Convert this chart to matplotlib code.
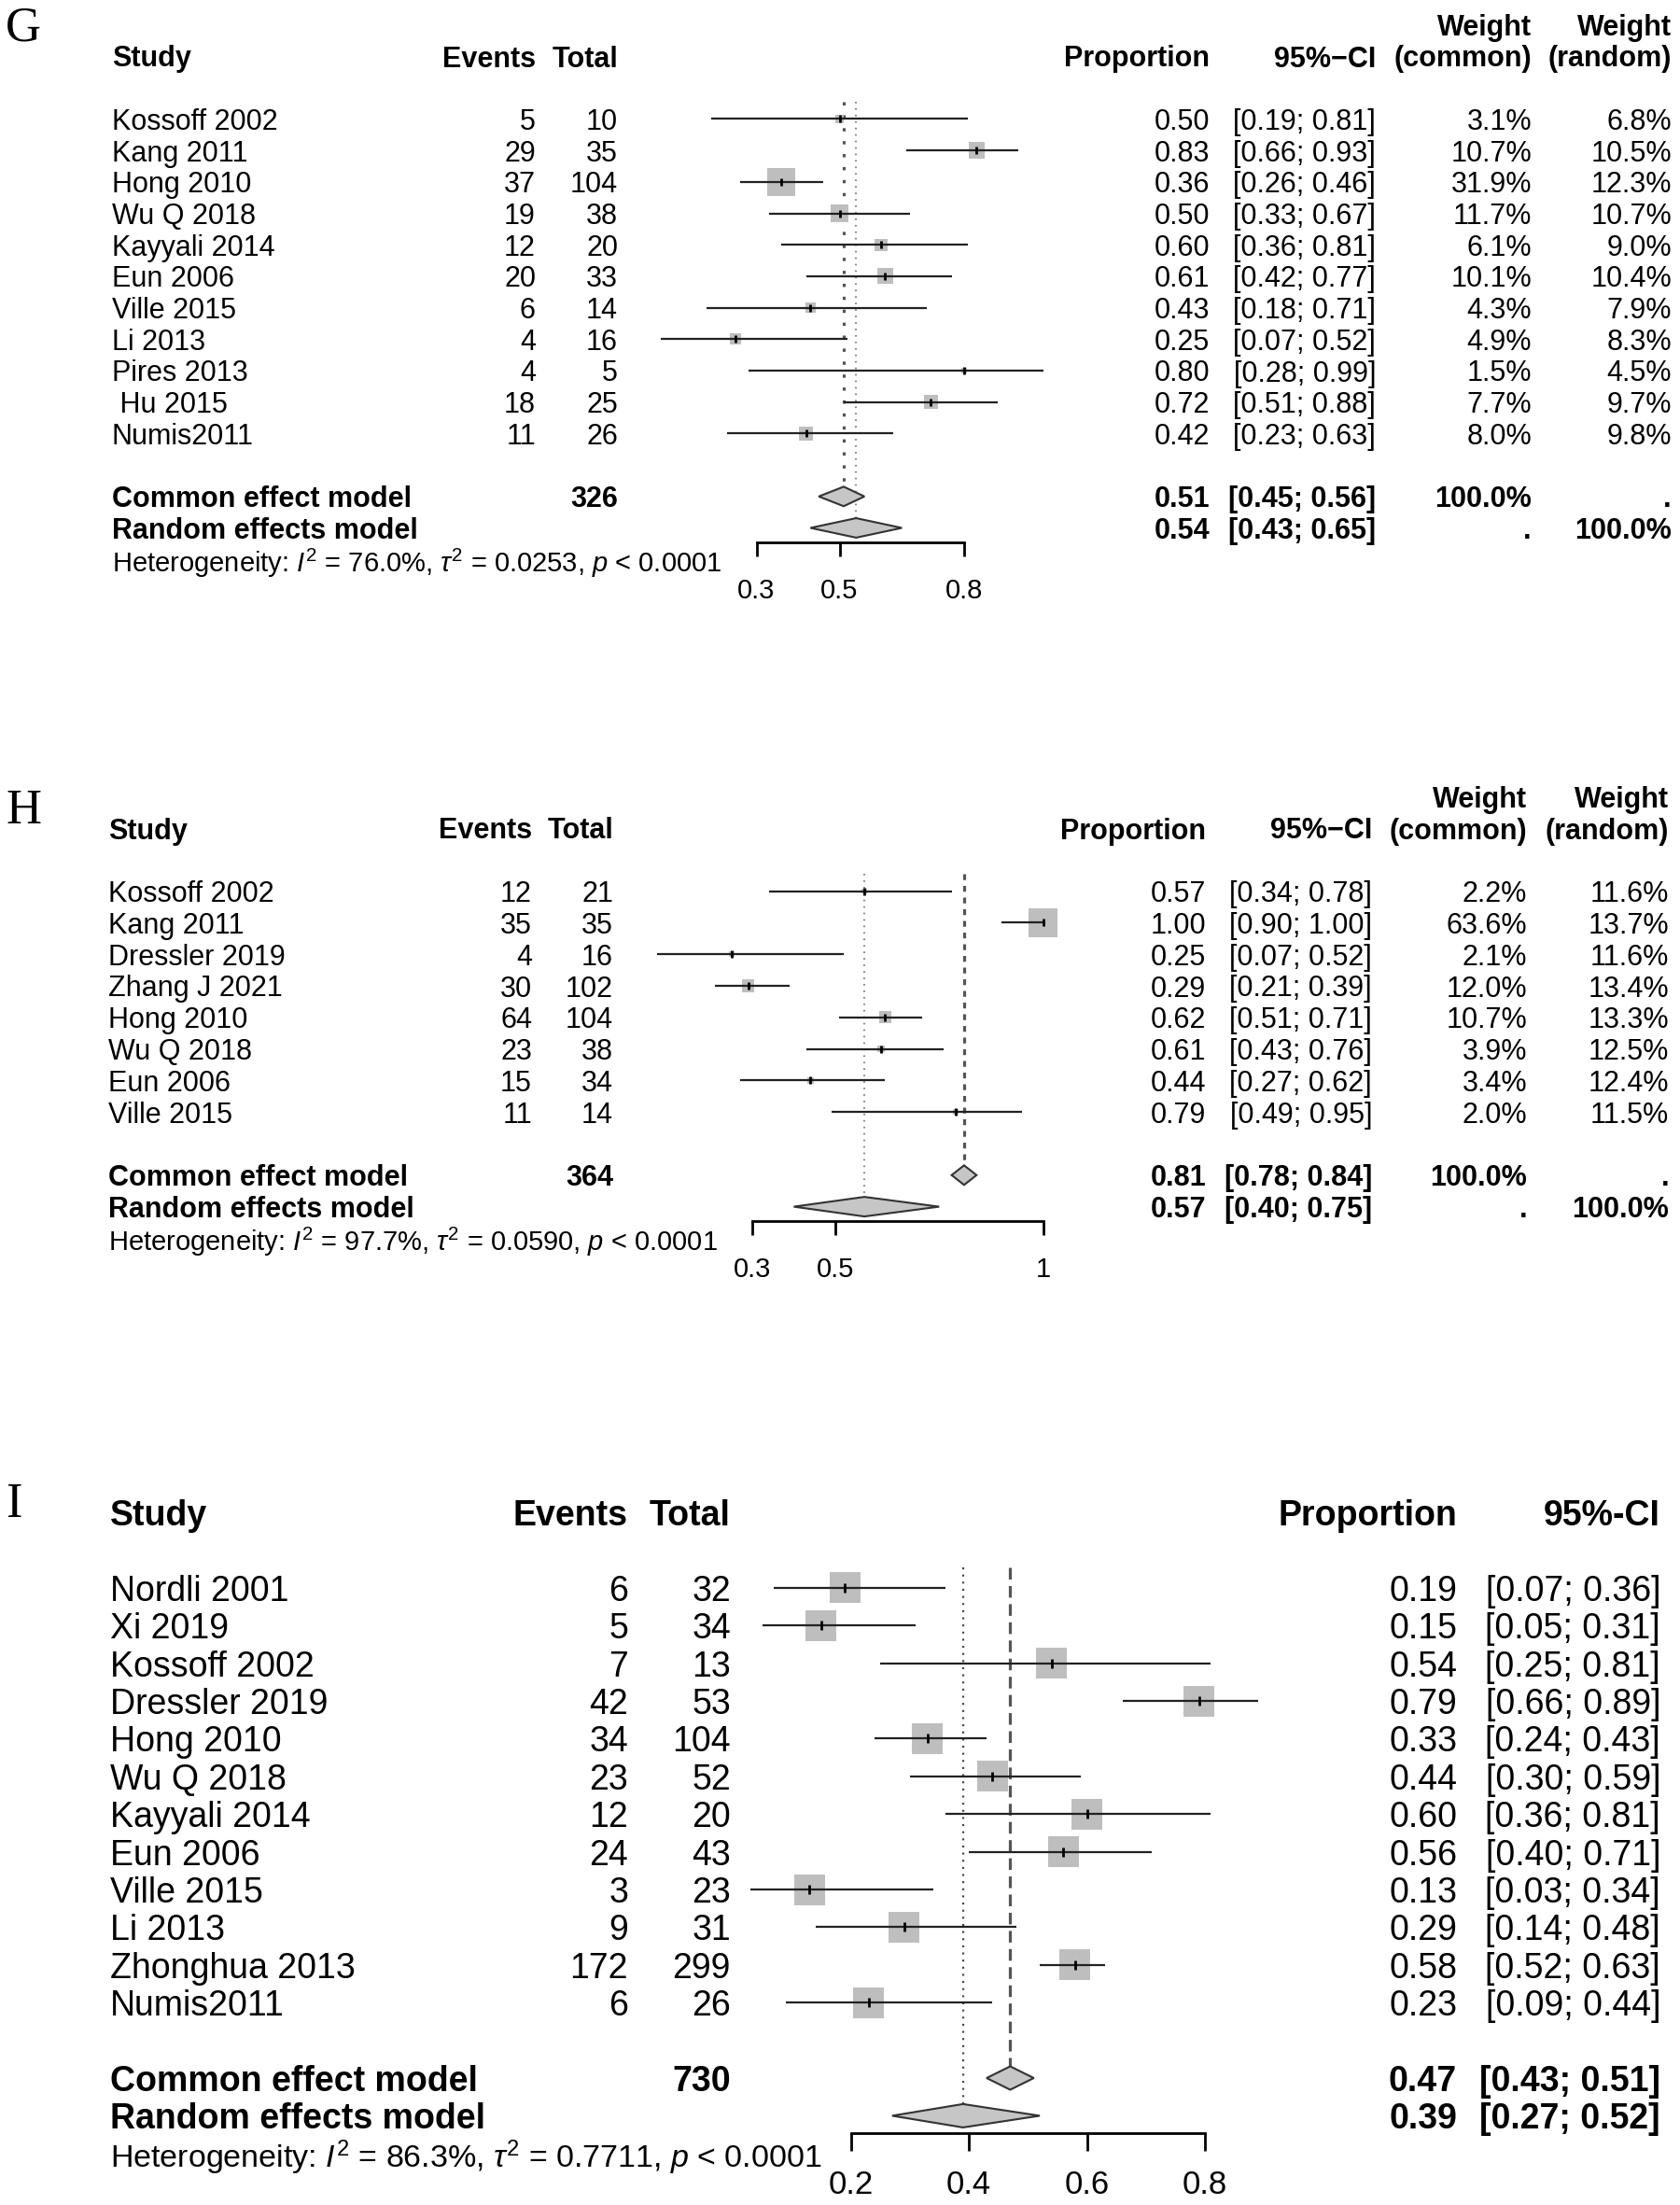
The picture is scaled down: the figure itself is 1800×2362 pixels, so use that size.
import matplotlib
matplotlib.use("Agg")
import matplotlib.pyplot as plt
from matplotlib.patches import Polygon

plt.rcParams["font.family"] = ["Liberation Sans", "DejaVu Sans"]
plt.rcParams["mathtext.fontset"] = "custom"
plt.rcParams["mathtext.rm"] = "Liberation Sans"
plt.rcParams["mathtext.it"] = "Liberation Sans:italic"
plt.rcParams["mathtext.bf"] = "Liberation Sans:bold"
plt.rcParams["lines.scale_dashes"] = False

# ── Panel G data ─────────────────────────────────────────────────────────────
G_STUDY = ["Kossoff 2002", "Kang 2011", "Hong 2010", "Wu Q 2018", "Kayyali 2014",
           "Eun 2006", "Ville 2015", "Li 2013", "Pires 2013", " Hu 2015", "Numis2011"]
G_EVENTS = [5, 29, 37, 19, 12, 20, 6, 4, 4, 18, 11]
G_TOTAL = [10, 35, 104, 38, 20, 33, 14, 16, 5, 25, 26]
G_PROP = [0.50, 0.83, 0.36, 0.50, 0.60, 0.61, 0.43, 0.25, 0.80, 0.72, 0.42]
G_LO = [0.19, 0.66, 0.26, 0.33, 0.36, 0.42, 0.18, 0.07, 0.28, 0.51, 0.23]
G_HI = [0.81, 0.93, 0.46, 0.67, 0.81, 0.77, 0.71, 0.52, 0.99, 0.88, 0.63]
G_W_COMMON = [3.1, 10.7, 31.9, 11.7, 6.1, 10.1, 4.3, 4.9, 1.5, 7.7, 8.0]
G_W_RANDOM = [6.8, 10.5, 12.3, 10.7, 9.0, 10.4, 7.9, 8.3, 4.5, 9.7, 9.8]
G_COMMON = [0.51, 0.45, 0.56]
G_RANDOM = [0.54, 0.43, 0.65]
G_N = 326
G_HET = ["76.0", "0.0253"]
G_TICKS = [0.3, 0.5, 0.8]

# ── Panel H data ─────────────────────────────────────────────────────────────
H_STUDY = ["Kossoff 2002", "Kang 2011", "Dressler 2019", "Zhang J 2021",
           "Hong 2010", "Wu Q 2018", "Eun 2006", "Ville 2015"]
H_EVENTS = [12, 35, 4, 30, 64, 23, 15, 11]
H_TOTAL = [21, 35, 16, 102, 104, 38, 34, 14]
H_PROP = [0.57, 1.00, 0.25, 0.29, 0.62, 0.61, 0.44, 0.79]
H_LO = [0.34, 0.90, 0.07, 0.21, 0.51, 0.43, 0.27, 0.49]
H_HI = [0.78, 1.00, 0.52, 0.39, 0.71, 0.76, 0.62, 0.95]
H_W_COMMON = [2.2, 63.6, 2.1, 12.0, 10.7, 3.9, 3.4, 2.0]
H_W_RANDOM = [11.6, 13.7, 11.6, 13.4, 13.3, 12.5, 12.4, 11.5]
H_COMMON = [0.81, 0.78, 0.84]
H_RANDOM = [0.57, 0.40, 0.75]
H_N = 364
H_HET = ["97.7", "0.0590"]
H_TICKS = [0.3, 0.5, 1.0]

# ── Panel I data ─────────────────────────────────────────────────────────────
I_STUDY = ["Nordli 2001", "Xi 2019", "Kossoff 2002", "Dressler 2019", "Hong 2010",
           "Wu Q 2018", "Kayyali 2014", "Eun 2006", "Ville 2015", "Li 2013",
           "Zhonghua 2013", "Numis2011"]
I_EVENTS = [6, 5, 7, 42, 34, 23, 12, 24, 3, 9, 172, 6]
I_TOTAL = [32, 34, 13, 53, 104, 52, 20, 43, 23, 31, 299, 26]
I_PROP = [0.19, 0.15, 0.54, 0.79, 0.33, 0.44, 0.60, 0.56, 0.13, 0.29, 0.58, 0.23]
I_LO = [0.07, 0.05, 0.25, 0.66, 0.24, 0.30, 0.36, 0.40, 0.03, 0.14, 0.52, 0.09]
I_HI = [0.36, 0.31, 0.81, 0.89, 0.43, 0.59, 0.81, 0.71, 0.34, 0.48, 0.63, 0.44]
I_COMMON = [0.47, 0.43, 0.51]
I_RANDOM = [0.39, 0.27, 0.52]
I_N = 730
I_HET = ["86.3", "0.7711"]
I_TICKS = [0.2, 0.4, 0.6, 0.8]

W_PX, H_PX = 1800, 2362

# layout of each panel in output pixels
LAY_G = dict(label="G", label_base=44, top=0, bottom=700, head=60, row_h=33.7,
             p_ref=0.5, px_ref=899.5, scale=445.0, fs=22, het_fs=21, tick_fs=21,
             x_study=120, x_events=574, x_total=662, x_prop=1296, x_ci=1474,
             x_wc=1641, x_wr=1791, sq_max=30, tick_len=10.5, tick_pad=17,
             dash=(2.5, 7.5), dot=(1.2, 3.8), dot_color="#8a8a8a",
             ci_head="95%\u2212CI")
LAY_H = dict(label="H", label_base=882, top=700, bottom=1420, head=887, row_h=33.8,
             p_ref=0.5, px_ref=895.0, scale=445.0, fs=22, het_fs=21, tick_fs=21,
             x_study=116, x_events=570, x_total=657, x_prop=1292, x_ci=1470,
             x_wc=1636, x_wr=1788, sq_max=31, tick_len=10.5, tick_pad=17,
             dash=(4.5, 4.5), dot=(1.2, 3.8), dot_color="#8a8a8a",
             ci_head="95%\u2212CI")
LAY_I = dict(label="I", label_base=1625, top=1420, bottom=2362, head=1620, row_h=40.4,
             p_ref=0.2, px_ref=911.6, scale=632.5, fs=27, het_fs=24.5, tick_fs=25,
             x_study=118, x_events=673, x_total=783, x_prop=1561, x_ci=1779,
             x_wc=None, x_wr=None, sq_max=33, tick_len=13.5, tick_pad=15,
             dash=(9, 5), dot=(1.5, 4), dot_color="#444444",
             ci_head="95%-CI")

SQ_COLOR = "#bebebe"
DIA_COLOR = "#c6c6c6"
LINE_COLOR = "#222222"


def draw_panel(fig, lay, study, events, total, prop, lo, hi, w_com, w_ran,
               common, random_, n_all, het, ticks):
    top, bot, head, rh = lay["top"], lay["bottom"], lay["head"], lay["row_h"]
    ax = fig.add_axes([0, 1 - bot / H_PX, 1, (bot - top) / H_PX])
    s = lay["scale"]
    ax.set_xlim(lay["p_ref"] - lay["px_ref"] / s, lay["p_ref"] + (W_PX - lay["px_ref"]) / s)
    ax.set_ylim((bot - head) / rh, (top - head) / rh)
    ax.patch.set_alpha(0)
    for sp in ["top", "left", "right"]:
        ax.spines[sp].set_visible(False)
    ax.set_yticks([])

    fs = lay["fs"]
    tr = ax.get_yaxis_transform()

    def put(px, row, txt, ha="left", bold=False, size=None):
        ax.text(px / W_PX, row, txt, transform=tr, ha=ha, va="center_baseline",
                fontsize=size or fs, fontweight="bold" if bold else "normal",
                color="black")

    n = len(study)
    rows = [2 + i for i in range(n)]
    r_com = n + 3
    r_ran = n + 4
    r_het = n + 5
    r_axis = r_ran + 0.45

    # headers
    put(lay["x_study"], 0, "Study", bold=True)
    put(lay["x_events"], 0, "Events", ha="right", bold=True)
    put(lay["x_total"], 0, "Total", ha="right", bold=True)
    put(lay["x_prop"], 0, "Proportion", ha="right", bold=True)
    put(lay["x_ci"], 0, lay["ci_head"], ha="right", bold=True)
    if w_com is not None:
        put(lay["x_wc"], -1, "Weight", ha="right", bold=True)
        put(lay["x_wc"], 0, "(common)", ha="right", bold=True)
        put(lay["x_wr"], -1, "Weight", ha="right", bold=True)
        put(lay["x_wr"], 0, "(random)", ha="right", bold=True)

    # study rows
    for i in range(n):
        r = rows[i]
        put(lay["x_study"], r, study[i])
        put(lay["x_events"], r, f"{events[i]}", ha="right")
        put(lay["x_total"], r, f"{total[i]}", ha="right")
        put(lay["x_prop"], r, f"{prop[i]:.2f}", ha="right")
        put(lay["x_ci"], r, f"[{lo[i]:.2f}; {hi[i]:.2f}]", ha="right")
        if w_com is not None:
            put(lay["x_wc"], r, f"{w_com[i]:.1f}%", ha="right")
            put(lay["x_wr"], r, f"{w_ran[i]:.1f}%", ha="right")

    # summary rows
    put(lay["x_study"], r_com, "Common effect model", bold=True)
    put(lay["x_total"], r_com, f"{n_all}", ha="right", bold=True)
    put(lay["x_prop"], r_com, f"{common[0]:.2f}", ha="right", bold=True)
    put(lay["x_ci"], r_com, f"[{common[1]:.2f}; {common[2]:.2f}]", ha="right", bold=True)
    put(lay["x_study"], r_ran, "Random effects model", bold=True)
    put(lay["x_prop"], r_ran, f"{random_[0]:.2f}", ha="right", bold=True)
    put(lay["x_ci"], r_ran, f"[{random_[1]:.2f}; {random_[2]:.2f}]", ha="right", bold=True)
    if w_com is not None:
        put(lay["x_wc"], r_com, "100.0%", ha="right", bold=True)
        put(lay["x_wr"], r_com, ".", ha="right", bold=True)
        put(lay["x_wc"], r_ran, ".", ha="right", bold=True)
        put(lay["x_wr"], r_ran, "100.0%", ha="right", bold=True)
    put(lay["x_study"], r_het,
        rf"Heterogeneity: $I^2$ = {het[0]}%, $\tau^2$ = {het[1]}, $p$ < 0.0001",
        size=lay["het_fs"])

    # squares (area ~ common weight)
    if w_com is not None:
        wmax = max(w_com)
        sides = [lay["sq_max"] * (w / wmax) ** 0.5 for w in w_com]
    else:
        sides = [lay["sq_max"]] * n
    ax.scatter(prop, rows, marker="s", s=[(sd * 0.72) ** 2 for sd in sides],
               color=SQ_COLOR, edgecolors="none", zorder=2)
    ax.hlines(rows, lo, hi, color=LINE_COLOR, lw=1.6, zorder=3)
    ax.scatter(prop, rows, marker="|", s=(lay["row_h"] * 0.25 * 0.72) ** 2,
               color="black", linewidths=2.0, zorder=4)

    # reference lines
    dh = 0.31
    ax.plot([common[0], common[0]], [1.45, r_com - dh], color="#555555", lw=2.3,
            dashes=lay["dash"], zorder=1)
    ax.plot([random_[0], random_[0]], [1.45, r_ran - dh], color=lay["dot_color"],
            lw=1.6, dashes=lay["dot"], zorder=1)

    # diamonds
    for est, l, h, r in [(common[0], common[1], common[2], r_com),
                         (random_[0], random_[1], random_[2], r_ran)]:
        ax.add_patch(Polygon([(l, r), (est, r - dh), (h, r), (est, r + dh)],
                             closed=True, facecolor=DIA_COLOR, edgecolor="#333333",
                             lw=1.5, zorder=3))

    # x axis
    ax.spines["bottom"].set_position(("data", r_axis))
    ax.spines["bottom"].set_bounds(ticks[0], ticks[-1])
    ax.spines["bottom"].set_linewidth(2.0)
    ax.spines["bottom"].set_color("black")
    ax.set_xticks(ticks)
    ax.set_xticklabels([f"{t:g}" for t in ticks])
    ax.tick_params(axis="x", direction="out", length=lay["tick_len"], width=2.0,
                   labelsize=lay["tick_fs"], pad=lay["tick_pad"], colors="black")

    fig.text(6 / W_PX, 1 - lay["label_base"] / H_PX, lay["label"],
             family="Liberation Serif", fontsize=38, va="baseline", ha="left")


fig = plt.figure(figsize=(18, 23.62), dpi=100)
fig.patch.set_facecolor("white")

draw_panel(fig, LAY_G, G_STUDY, G_EVENTS, G_TOTAL, G_PROP, G_LO, G_HI,
           G_W_COMMON, G_W_RANDOM, G_COMMON, G_RANDOM, G_N, G_HET, G_TICKS)
draw_panel(fig, LAY_H, H_STUDY, H_EVENTS, H_TOTAL, H_PROP, H_LO, H_HI,
           H_W_COMMON, H_W_RANDOM, H_COMMON, H_RANDOM, H_N, H_HET, H_TICKS)
draw_panel(fig, LAY_I, I_STUDY, I_EVENTS, I_TOTAL, I_PROP, I_LO, I_HI,
           None, None, I_COMMON, I_RANDOM, I_N, I_HET, I_TICKS)

fig.savefig("out.png", dpi=100, facecolor="white")
